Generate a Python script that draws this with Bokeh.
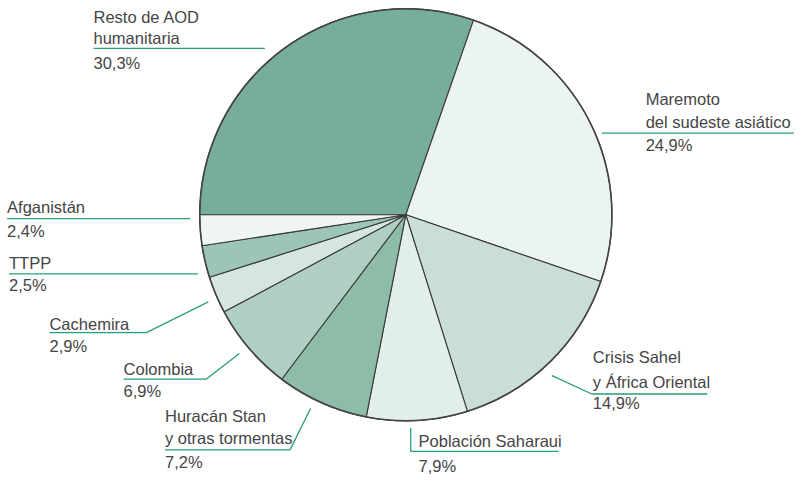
import math
from bokeh.plotting import figure
from bokeh.models import Range1d, ColumnDataSource
from bokeh.core.properties import value
from bokeh.embed import file_html
from bokeh.resources import INLINE

# ---- data ----
categories = ["Resto de AOD humanitaria", "Maremoto del sudeste asiático",
              "Crisis Sahel y África Oriental", "Población Saharaui",
              "Huracán Stan y otras tormentas", "Colombia", "Cachemira",
              "TTPP", "Afganistán"]
shares = [30.3, 24.9, 14.9, 7.9, 7.2, 6.9, 2.9, 2.5, 2.4]
pct_labels = ["30,3%", "24,9%", "14,9%", "7,9%", "7,2%", "6,9%", "2,9%", "2,5%", "2,4%"]
label_lines = [["Resto de AOD", "humanitaria"],
               ["Maremoto", "del sudeste asiático"],
               ["Crisis Sahel", "y África Oriental"],
               ["Población Saharaui"],
               ["Huracán Stan", "y otras tormentas"],
               ["Colombia"], ["Cachemira"], ["TTPP"], ["Afganistán"]]
colors = ["#76ae99", "#ebf4f0", "#c9dfd6", "#e2eeea", "#8dbca8",
          "#afcfc3", "#d5e6df", "#9dc5b5", "#eef5f2"]

# ---- layout (reference pixel coordinates, y measured downward) ----
H = 490
def fy(y):
    return H - y

CX, CY, R = 420, 225, 210.5
MID = 6.0  # distance from baseline up to the visual middle of capitals

# text x, baselines of name lines, baseline of percentage, leader polyline
layout = [
    dict(x=101, bl=[27, 48.5], pb=74, lead=[(101, 53.3), (276, 53.3)]),
    dict(x=665, bl=[111.7, 135], pb=159, lead=[(620, 140.7), (820, 140.7)]),
    dict(x=611, bl=[378.3, 403.3], pb=425, lead=[(569.3, 391), (610, 410), (728, 410)]),
    dict(x=433, bl=[465], pb=490, lead=[(425, 445), (425, 469.3), (576, 469.3)]),
    dict(x=174, bl=[439, 461.7], pb=486.5, lead=[(174, 467.7), (301.7, 467.7), (322.7, 425)]),
    dict(x=131.7, bl=[390], pb=413.3, lead=[(131.7, 394.7), (216, 394.7), (250, 368.3)]),
    dict(x=56, bl=[343.3], pb=366.7, lead=[(56, 346.7), (155, 346.7), (218.3, 315)]),
    dict(x=14.7, bl=[280.7], pb=304, lead=[(14.7, 286), (207.7, 286)]),
    dict(x=12.7, bl=[222.7], pb=247.3, lead=[(12.7, 229), (200, 229)]),
]

p = figure(width=794, height=474, x_range=Range1d(6, 817), y_range=Range1d(-3.1, 486.1),
           output_backend="svg", toolbar_location=None, min_border=0)
p.axis.visible = False
p.grid.visible = False
p.outline_line_color = None
p.background_fill_color = "white"
p.border_fill_color = "white"

# wedges: start at 9 o'clock, go clockwise
total = sum(shares)
starts, ends = [], []
cum = 0.0
for s in shares:
    a0 = math.pi - 2 * math.pi * cum / total
    cum += s
    a1 = math.pi - 2 * math.pi * cum / total
    starts.append(a0)
    ends.append(a1)

src = ColumnDataSource(dict(x=[CX] * len(shares), y=[fy(CY)] * len(shares),
                            start=starts, end=ends, color=colors, name=categories))
p.wedge(x="x", y="y", radius=R, start_angle="start", end_angle="end",
        direction="clock", fill_color="color", line_color="#3a3a3a",
        line_width=1.1, source=src)
p.circle(x=[CX], y=[fy(CY)], radius=R, fill_color=None, line_color="#444444",
         line_width=1.6)

TEXT_COLOR = "#454545"
LEAD_COLOR = "#2a9d7f"
FONT = value("Liberation Sans")

tx, ty, tt = [], [], []
for lines, pct, lay in zip(label_lines, pct_labels, layout):
    for ln, b in zip(lines, lay["bl"]):
        tx.append(lay["x"]); ty.append(fy(b - MID)); tt.append(ln)
    tx.append(lay["x"]); ty.append(fy(lay["pb"] - MID)); tt.append(pct)
    xs = [pt[0] for pt in lay["lead"]]
    ys = [fy(pt[1]) for pt in lay["lead"]]
    p.line(xs, ys, line_color=LEAD_COLOR, line_width=1.3)

p.text(x=tx, y=ty, text=tt, text_font=FONT, text_font_size="16.5px",
       text_color=TEXT_COLOR, text_align="left", text_baseline="middle")

open("out.html", "w").write(file_html(p, INLINE))
